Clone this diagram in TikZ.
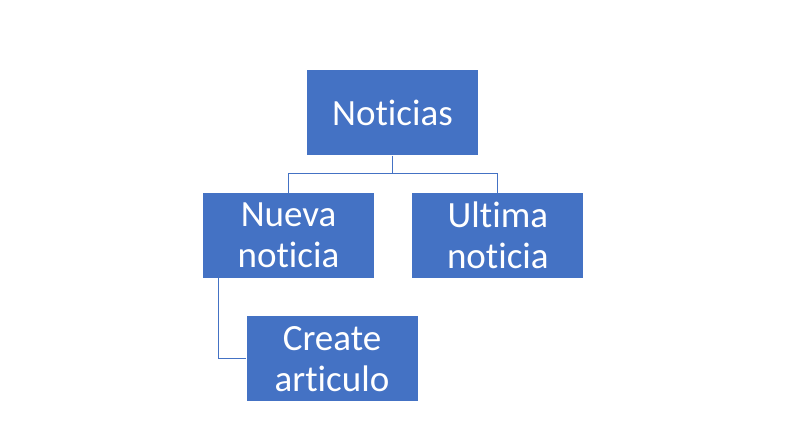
\documentclass[tikz,border=0pt]{standalone}
\usepackage{fontspec}
\setmainfont{Carlito}[Ligatures=NoCommon]
\usepackage{xcolor}
\usepackage{tikz}
\usetikzlibrary{positioning}

\definecolor{boxblue}{HTML}{4472C4}

\begin{document}
\begin{tikzpicture}[
      x=1pt, y=-1pt,
      node distance=37pt and 38pt,
      mybox/.style={draw=none, fill=boxblue, text=white, rectangle,
        minimum width=171pt, minimum height=85pt, inner sep=0pt,
        align=center, font=\fontsize{37}{41}\selectfont},
      mylink/.style={draw=boxblue, line width=1pt}
      ]
      \useasboundingbox (0,0) rectangle (785,438);

      \node[mybox] (noticias) at (392.5,113) {Noticias};
      \node[mybox, below=of noticias, xshift=-104pt] (nueva) {Nueva\\noticia};
      \node[mybox, right=of nueva] (ultima) {Ultima\\noticia};
      \node[mybox, below=38pt of nueva, xshift=43.5pt] (create) {Create\\articulo};

      \coordinate (split) at ([yshift=-18pt]noticias.south);
      \coordinate (branch) at ([xshift=16pt]nueva.south west);

      \path (noticias.south) edge[mylink] (split);
      \draw[mylink] (split) -| (nueva.north);
      \draw[mylink] (split) -| (ultima.north);
      \draw[mylink] (branch) |- (create.west);

    \end{tikzpicture}
\end{document}
